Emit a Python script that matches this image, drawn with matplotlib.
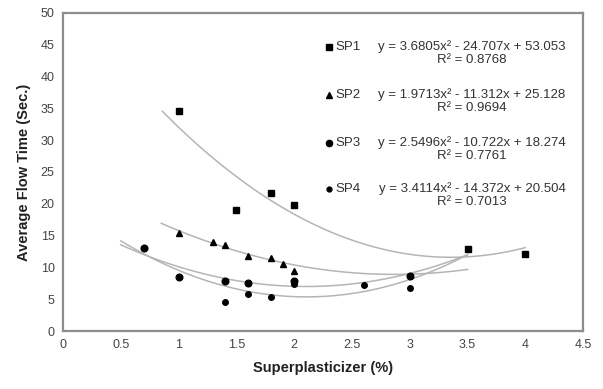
import matplotlib.pyplot as plt
import numpy as np

plt.rcParams['font.family'] = ['Liberation Sans', 'DejaVu Sans']

# measured points
sp1_x = [1, 1.5, 1.8, 2, 3.5, 4]
sp1_y = [34.6, 19.0, 21.7, 19.8, 12.9, 12.1]
sp2_x = [1, 1.3, 1.4, 1.6, 1.8, 1.9, 2]
sp2_y = [15.4, 14.0, 13.5, 11.8, 11.5, 10.5, 9.5]
sp3_x = [0.7, 1, 1.4, 1.6, 2, 3]
sp3_y = [13.1, 8.5, 7.9, 7.5, 7.9, 8.7]
sp4_x = [1.4, 1.6, 1.8, 2, 2.6, 3]
sp4_y = [4.6, 5.8, 5.3, 7.4, 7.3, 6.8]

# trendline coefficients shown on the chart
sp1_fit = [3.6805, -24.707, 53.053]
sp2_fit = [1.9713, -11.312, 25.128]
sp3_fit = [2.5496, -10.722, 18.274]
sp4_fit = [3.4114, -14.372, 20.504]
fit_range = [(0.86, 4.0), (0.85, 3.5), (0.5, 3.5), (0.5, 3.5)]

labels = ['SP1', 'SP2', 'SP3', 'SP4']
equations = ['y = 3.6805x² - 24.707x + 53.053',
             'y = 1.9713x² - 11.312x + 25.128',
             'y = 2.5496x² - 10.722x + 18.274',
             'y = 3.4114x² - 14.372x + 20.504']
r2 = ['R² = 0.8768', 'R² = 0.9694', 'R² = 0.7761', 'R² = 0.7013']

fig = plt.figure(figsize=(6.03, 3.89), dpi=100)
ax = fig.add_axes([0.1045, 0.149, 0.8625, 0.818])

fits = [sp1_fit, sp2_fit, sp3_fit, sp4_fit]
for f, (a, b) in zip(fits, fit_range):
    xx = np.linspace(a, b, 100)
    ax.plot(xx, np.polyval(f, xx), color='#b5b5b5', lw=1.1, zorder=1)

ax.plot(sp1_x, sp1_y, 's', color='black', ms=4.2, zorder=3)
ax.plot(sp2_x, sp2_y, '^', color='black', ms=4.5, zorder=3)
ax.plot(sp3_x, sp3_y, 'o', color='black', ms=4.8, zorder=3)
ax.plot(sp4_x, sp4_y, 'o', color='black', ms=4.0, zorder=3)

markers = [('s', 4), ('^', 4.5), ('o', 4.5), ('o', 3.5)]
ys = [47, 95, 143, 189]
for i in range(4):
    fy = (331 - ys[i]) / 318
    ax.plot([(329 - 63) / 520], [fy], markers[i][0], color='black',
            ms=markers[i][1], transform=ax.transAxes, clip_on=False)
    ax.text((335 - 63) / 520, fy, labels[i], transform=ax.transAxes,
            fontsize=9.5, color='#333333', va='center', ha='left')
    ax.text((472 - 63) / 520, fy, equations[i], transform=ax.transAxes,
            fontsize=9.5, color='#333333', va='center', ha='center')
    ax.text((472 - 63) / 520, fy - 13 / 318, r2[i], transform=ax.transAxes,
            fontsize=9.5, color='#333333', va='center', ha='center')

ax.set_xlim(0, 4.5)
ax.set_ylim(0, 50)
ax.set_xticks(np.arange(0, 4.51, 0.5))
ax.set_xticklabels(['0', '0.5', '1', '1.5', '2', '2.5', '3', '3.5', '4', '4.5'])
ax.set_yticks(range(0, 51, 5))
ax.tick_params(length=0, labelsize=9, colors='#444444', pad=6)
for s in ax.spines.values():
    s.set_color('#8c8c8c')
    s.set_linewidth(1.6)

ax.set_xlabel('Superplasticizer (%)', fontsize=10.5, fontweight='bold', color='#222222', labelpad=7)
ax.set_ylabel('Average Flow Time (Sec.)', fontsize=10.5, fontweight='bold', color='#222222', labelpad=7)

fig.savefig('out.png', dpi=100)
